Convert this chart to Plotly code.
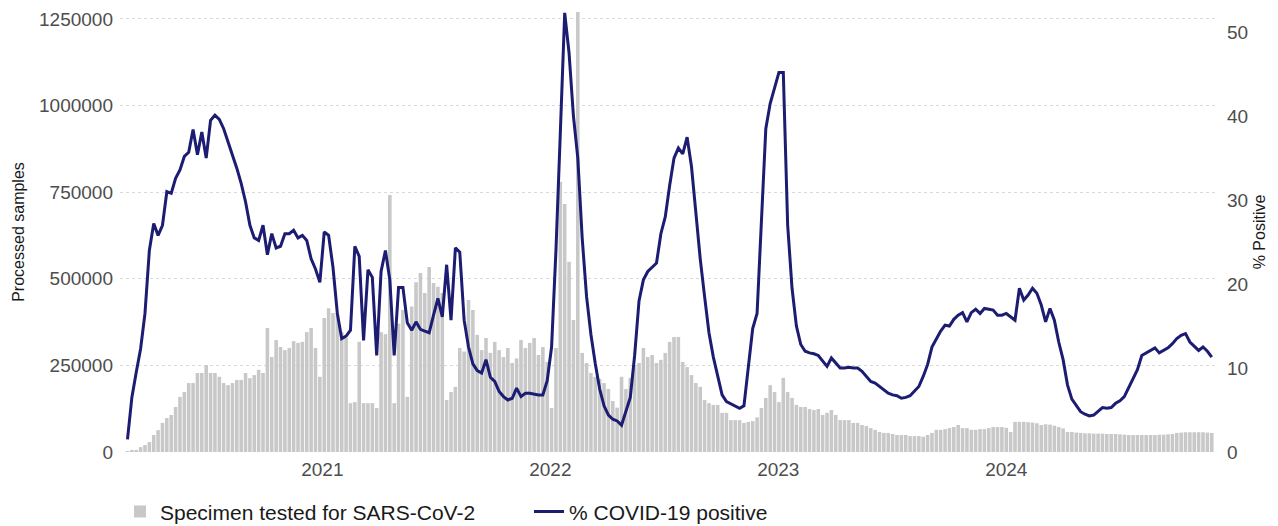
import plotly.graph_objects as go
import pandas as pd

# Weekly reporting periods
start_week = "2020-02-24"
n_weeks = 249
weeks = pd.date_range(start_week, periods=n_weeks, freq="7D")

# Specimens tested for SARS-CoV-2 (thousands per week)
specimens_k = [
    2, 4, 6, 14, 20, 29, 49, 63, 84, 98,
    107, 130, 159, 173, 199, 199, 228, 228, 251, 228,
    228, 217, 199, 193, 199, 208, 208, 228, 213, 222,
    237, 228, 358, 274, 323, 303, 294, 300, 320, 315,
    318, 346, 358, 300, 217, 387, 415, 401, 401, 346,
    329, 141, 144, 318, 141, 141, 141, 127, 346, 340,
    742, 141, 370, 410, 159, 420, 490, 517, 459, 534,
    488, 477, 459, 150, 173, 188, 300, 290, 439, 410,
    338, 294, 329, 286, 318, 294, 274, 300, 257, 270,
    323, 300, 315, 329, 280, 303, 260, 127, 300, 780,
    716, 549, 381, 1300, 286, 257, 228, 217, 211, 199,
    182, 147, 128, 217, 182, 214, 251, 257, 300, 274,
    280, 257, 266, 286, 318, 332, 332, 260, 245, 222,
    199, 188, 150, 141, 136, 136, 113, 113, 92, 92,
    92, 84, 87, 89, 100, 127, 156, 193, 173, 144,
    214, 173, 156, 136, 130, 130, 124, 121, 124, 107,
    113, 121, 107, 92, 92, 92, 84, 84, 78, 75,
    69, 64, 58, 55, 55, 52, 49, 49, 49, 46,
    46, 46, 44, 49, 55, 64, 64, 66, 69, 72,
    78, 69, 69, 64, 64, 66, 66, 69, 72, 72,
    72, 70, 58, 87, 87, 87, 86, 85, 83, 78,
    80, 79, 76, 72, 68, 58, 58, 56, 55, 54,
    54, 53, 53, 53, 52, 52, 52, 51, 50, 49,
    49, 49, 49, 49, 49, 49, 50, 50, 51, 52,
    55, 56, 57, 57, 57, 57, 57, 56, 55,
]
specimens = [v * 1000 for v in specimens_k]

# % COVID-19 positive
pct_positive = [
    1.5, 6.5, 9.5, 12.3, 16.5, 24, 27.2, 25.8, 27, 31,
    30.8, 32.6, 33.6, 35.2, 35.7, 38.4, 35.4, 38.1, 35.0, 39.5,
    40.1, 39.6, 38.5, 37, 35.3, 33.8, 32, 29.8, 27, 25.5,
    25.2, 27, 23.5, 26, 24.3, 24.5, 26, 26, 26.4, 25.5,
    25.8, 25.2, 23, 21.8, 20.2, 26.2, 25.8, 22, 16.5, 13.5,
    13.8, 14.5, 24.5, 23.3, 13.3, 21.7, 20.8, 11.5, 21.5, 24,
    20.5, 11.5, 19.6, 19.6, 15.4, 14.5, 15.5, 14.6, 14.4, 14.2,
    16.3, 18.3, 16.1, 22.3, 15.7, 24.3, 23.8, 15.7, 12.5, 10.5,
    9.7, 9.4, 11, 8.9, 8.4, 7.2, 6.6, 6.2, 6.4, 7.6,
    6.6, 7, 7, 6.9, 6.8, 6.8, 8.5, 12.5, 24, 38,
    52.3, 47.5, 40, 35, 25.5, 18.5, 14, 10.5, 7.5, 5.5,
    4.4, 3.9, 3.7, 3.2, 5, 6.5, 11.5, 18, 20.5, 21.5,
    22, 22.5, 26, 28, 31.7, 35, 36.2, 35.5, 37.5, 34,
    28.5, 23, 18.5, 14.2, 11.3, 9, 6.8, 6, 5.7, 5.5,
    5.2, 5.5, 10, 14.7, 16.5, 28.5, 38.5, 41.5, 43.3, 45.2,
    45.2, 27, 19.5, 15, 12.8, 12, 11.8, 11.7, 11.5, 10.9,
    10.2, 11.2, 10.6, 10, 10, 10.1, 10, 10, 9.6, 9,
    8.4, 8.2, 7.8, 7.3, 7, 6.8, 6.7, 6.4, 6.5, 6.7,
    7.2, 7.8, 9, 10.4, 12.5, 13.5, 14.4, 15.1, 15, 15.8,
    16.3, 16.6, 15.5, 16.6, 17, 16.5, 17.1, 17, 16.9, 16.3,
    16.3, 16.5, 16.1, 15.7, 19.5, 18.1, 18.7, 19.5, 18.9, 17.5,
    15.5, 17.1, 15.7, 13.1, 11, 8, 6.3, 5.5, 4.8, 4.5,
    4.3, 4.4, 4.8, 5.3, 5.2, 5.3, 5.8, 6.1, 6.6, 7.7,
    8.8, 9.8, 11.5, 11.8, 12, 12.4, 11.8, 12.1, 12.4, 12.9,
    13.5, 13.9, 14.1, 13.1, 12.6, 12.1, 12.5, 12, 11.3,
]

left_ticks = [0, 250000, 500000, 750000, 1000000, 1250000]
right_ticks = [0, 10, 20, 30, 40, 50]
year_ticks = ["2021-01-01", "2022-01-01", "2023-01-01", "2024-01-01"]
year_labels = ["2021", "2022", "2023", "2024"]

FONT = "Liberation Sans, Arial, Helvetica, sans-serif"
TICK_COLOR = "#4d4d4d"

fig = go.Figure()
fig.add_trace(go.Bar(
    x=weeks, y=specimens, name="Specimen tested for SARS-CoV-2",
    marker=dict(color="#c8c8c8", line=dict(width=0)),
    yaxis="y",
))
fig.add_trace(go.Scatter(
    x=weeks, y=pct_positive, name="% COVID-19 positive",
    mode="lines", line=dict(color="#1c1c72", width=3),
    yaxis="y2",
))

# page body adds an 8px offset, so the figure is sized 8px smaller
fig.update_layout(
    width=1270, height=518,
    margin=dict(l=112, r=60, t=4, b=74, autoexpand=False),
    paper_bgcolor="white", plot_bgcolor="white",
    font=dict(family=FONT, size=19, color="#1a1a1a"),
    bargap=0.18,
    showlegend=True,
    legend=dict(orientation="h", x=0.0, xanchor="left",
                y=-0.136, yanchor="middle",
                font=dict(size=21, color="#1a1a1a"), itemwidth=30,
                entrywidth=364, entrywidthmode="pixels",
                bgcolor="rgba(0,0,0,0)"),
    xaxis=dict(
        range=["2020-02-12", "2024-12-05"], automargin=False,
        tickmode="array", tickvals=year_ticks, ticktext=year_labels,
        showgrid=False, zeroline=False, showline=False, ticks="",
        tickfont=dict(size=19, color=TICK_COLOR), ticklabelstandoff=4,
    ),
    yaxis=dict(
        range=[0, 1270000], automargin=False,
        tickmode="array", tickvals=left_ticks, ticktext=[str(v) for v in left_ticks],
        showgrid=True, gridcolor="#d9d9d9", griddash="dot", gridwidth=1,
        zeroline=False, showline=False, ticks="",
        tickfont=dict(size=19, color=TICK_COLOR), ticklabelstandoff=6,
        title=dict(text="Processed samples", font=dict(size=16, color="#1a1a1a"), standoff=10),
    ),
    yaxis2=dict(
        range=[0, 52.4], overlaying="y", side="right", automargin=False,
        tickmode="array", tickvals=right_ticks, ticktext=[str(v) for v in right_ticks],
        showgrid=False, zeroline=False, showline=False, ticks="",
        tickfont=dict(size=19, color=TICK_COLOR), ticklabelstandoff=8,
        title=dict(text="% Positive", font=dict(size=16, color="#1a1a1a"), standoff=6),
    ),
)

fig.write_html("out.html")
